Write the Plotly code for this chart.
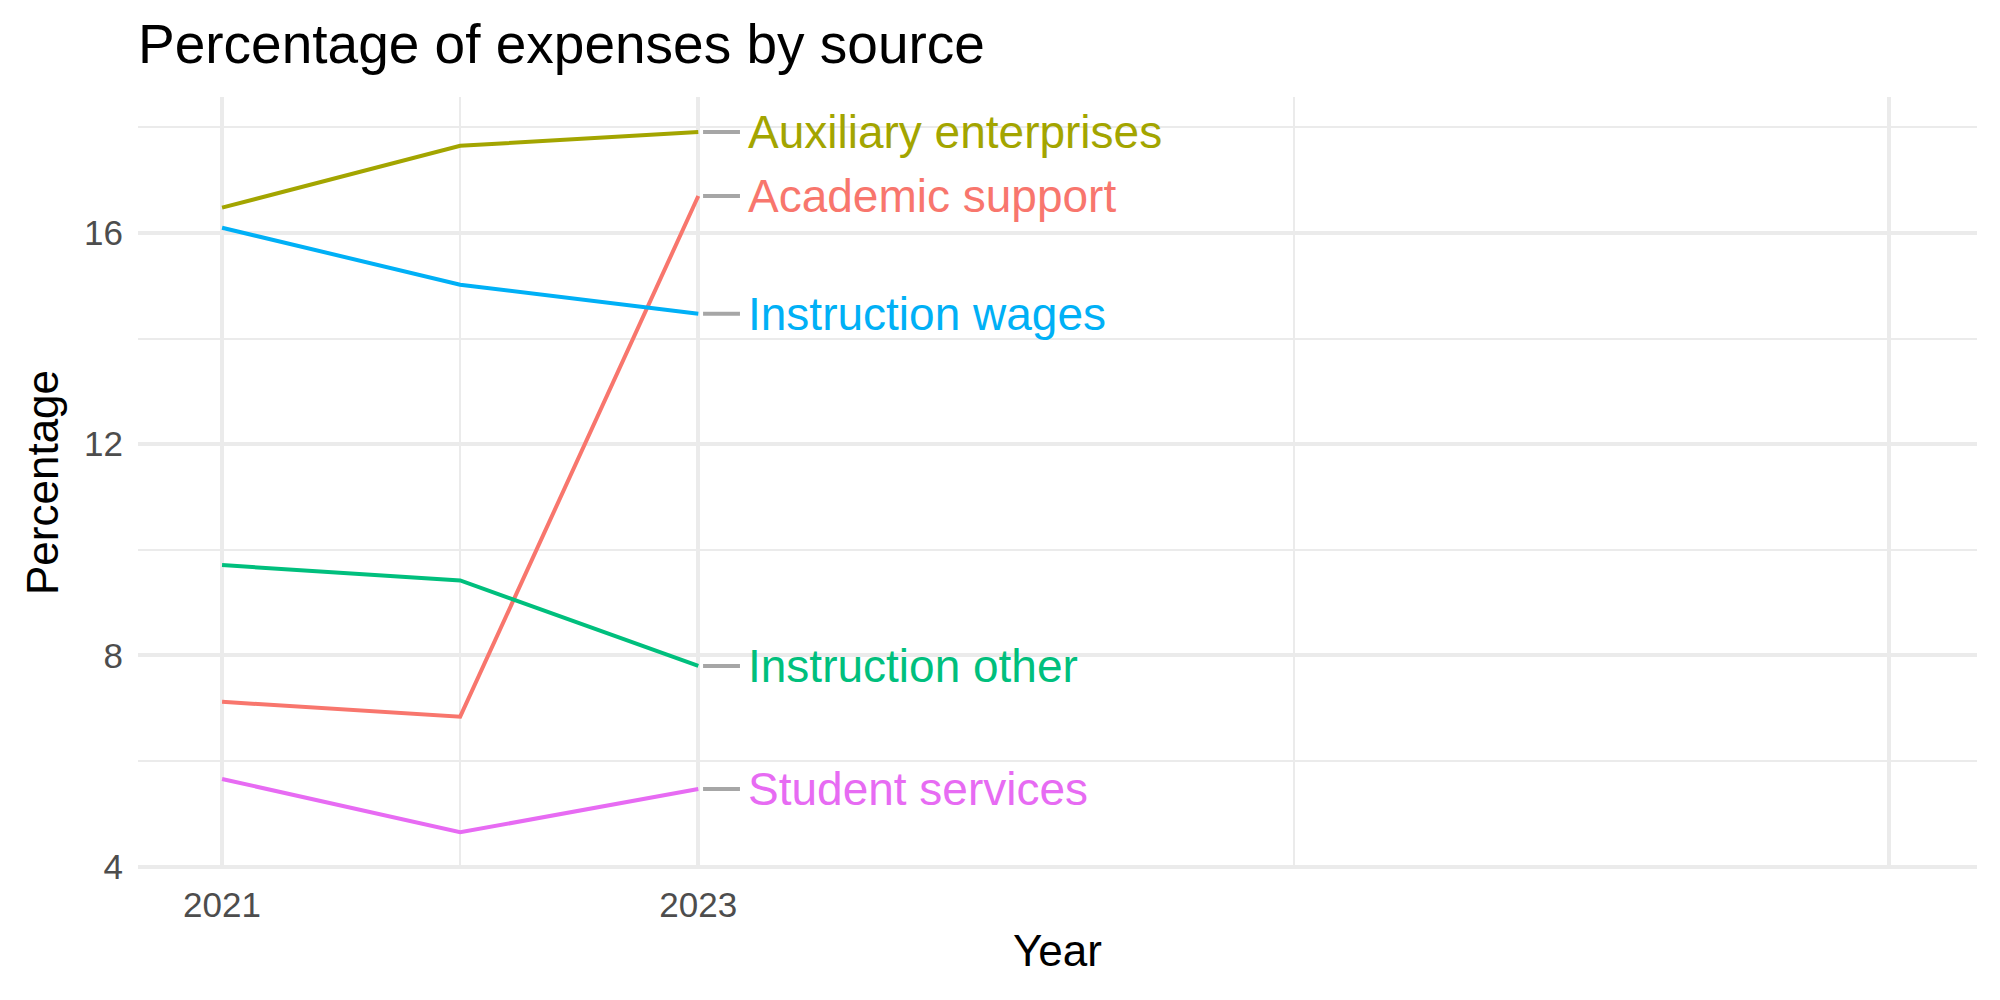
import plotly.graph_objects as go

# ---- data ----
years = [2021, 2022, 2023]
series_names = ["Academic support", "Auxiliary enterprises", "Instruction other",
                "Instruction wages", "Student services"]
academic_support = [7.12, 6.84, 16.70]
auxiliary_enterprises = [16.48, 17.65, 17.91]
instruction_other = [9.71, 9.42, 7.80]
instruction_wages = [16.10, 15.02, 14.47]
student_services = [5.66, 4.65, 5.47]
series_values = [academic_support, auxiliary_enterprises, instruction_other,
                 instruction_wages, student_services]
colors = ["#F8766D", "#A3A500", "#00BF7D", "#00B0F6", "#E76BF3"]

x_major = [2021, 2023, 2028]
x_major_text = ["2021", "2023", ""]
x_minor = [2022, 2025.5]
y_major = [4, 8, 12, 16]
y_minor = [6, 10, 14, 18]

FONT = "Liberation Sans, Arial, Helvetica, sans-serif"
GRID = "#EBEBEB"

fig = go.Figure()

for name, vals, col in zip(series_names, series_values, colors):
    fig.add_trace(go.Scatter(x=years, y=vals, mode="lines", name=name,
                             line=dict(color=col, width=4), showlegend=False,
                             hoverinfo="skip"))

# label connector segments and labels
last_year = years[-1]
for name, vals, col in zip(series_names, series_values, colors):
    v = vals[-1]
    fig.add_trace(go.Scatter(x=[last_year + 0.02, last_year + 0.175], y=[v, v],
                             mode="lines", line=dict(color="#A6A6A6", width=4),
                             showlegend=False, hoverinfo="skip"))
    fig.add_annotation(x=last_year + 0.2, y=v, xref="x", yref="y", text=name,
                       showarrow=False, xanchor="left", yanchor="middle",
                       font=dict(family=FONT, size=46, color=col))

# axis titles
fig.add_annotation(text="Year", xref="paper", yref="paper", x=0.5, y=-0.106,
                   xanchor="center", yanchor="middle", showarrow=False,
                   font=dict(family=FONT, size=44, color="black"))
fig.add_annotation(text="Percentage", xref="paper", yref="paper",
                   x=-(138 - 42) / 1839, y=(869 - 483) / 772, textangle=-90,
                   xanchor="center", yanchor="middle", showarrow=False,
                   font=dict(family=FONT, size=44, color="black"))

fig.update_layout(
    width=2000, height=1000, autosize=False,
    margin=dict(l=138, r=23, t=97, b=131, pad=0),
    plot_bgcolor="white", paper_bgcolor="white",
    title=dict(text="Percentage of expenses by source", x=138 / 2000, xanchor="left",
               xref="container", y=1 - 44 / 1000, yanchor="middle", yref="container",
               font=dict(family=FONT, size=55, color="black")),
    xaxis=dict(range=[2020.647, 2028.37], tickmode="array", tickvals=x_major,
               ticktext=x_major_text, showgrid=True, gridcolor=GRID, gridwidth=4,
               zeroline=False, showline=False, ticks="", ticklabelstandoff=12,
               tickfont=dict(family=FONT, size=35, color="#4D4D4D"),
               minor=dict(tickmode="array", tickvals=x_minor, showgrid=True,
                          gridcolor=GRID, gridwidth=2, ticks="")),
    yaxis=dict(range=[3.955, 18.575], tickmode="array", tickvals=y_major,
               ticktext=[str(v) for v in y_major], showgrid=True, gridcolor=GRID,
               gridwidth=4, zeroline=False, showline=False, ticks="",
               ticklabelstandoff=14,
               tickfont=dict(family=FONT, size=35, color="#4D4D4D"),
               minor=dict(tickmode="array", tickvals=y_minor, showgrid=True,
                          gridcolor=GRID, gridwidth=2, ticks="")),
)

fig.write_html("out.html")
